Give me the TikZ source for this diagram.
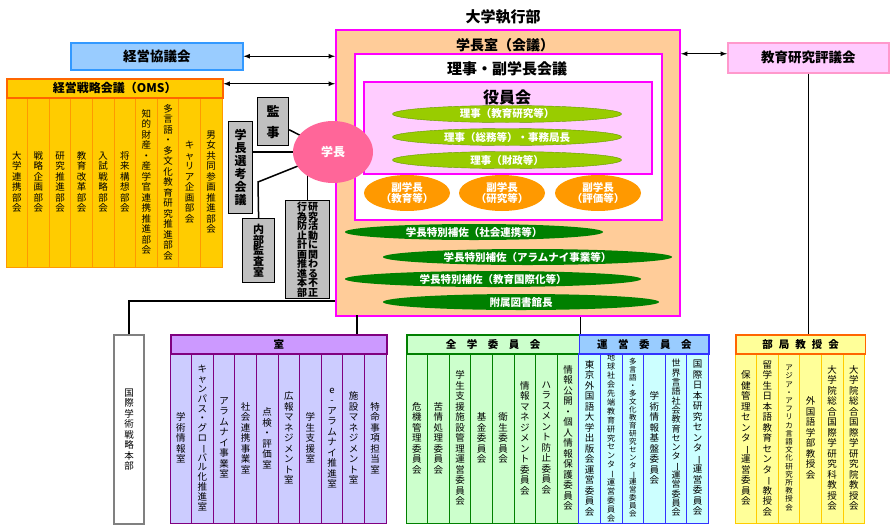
\documentclass[tikz,border=0pt]{standalone}
\usepackage{fontspec}
\setmainfont{Noto Sans CJK JP}
\usepackage{graphicx}
\usetikzlibrary{shapes, arrows}

\definecolor{omsfill}{HTML}{FFCC00}
\definecolor{omsline}{HTML}{FF6600}
\definecolor{omscolline}{HTML}{FF9900}
\definecolor{shitsuhd}{HTML}{CC99FF}
\definecolor{shitsufill}{HTML}{CCCCFF}
\definecolor{shitsuline}{HTML}{800080}
\definecolor{zengakufill}{HTML}{CCFFCC}
\definecolor{zengakuline}{HTML}{008000}
\definecolor{ueihd}{HTML}{99CCFF}
\definecolor{ueifill}{HTML}{CCFFFF}
\definecolor{ueiline}{HTML}{3333FF}
\definecolor{bukyokufill}{HTML}{FFFF99}
\definecolor{bukyokuline}{HTML}{FF6600}
\definecolor{bukyokucolline}{HTML}{FFCC00}
\definecolor{keieifill}{HTML}{99CCFF}
\definecolor{keieiline}{HTML}{3399FF}
\definecolor{hyogifill}{HTML}{FFCCFF}
\definecolor{hyogiline}{HTML}{FF99CC}
\definecolor{peach}{HTML}{FFCC99}
\definecolor{shitsumag}{HTML}{FF00FF}
\definecolor{yakuinfill}{HTML}{FFCCFF}
\definecolor{lime}{HTML}{99CC00}
\definecolor{limeline}{HTML}{669900}
\definecolor{hosagreen}{HTML}{008000}
\definecolor{fukuorange}{HTML}{FF9900}
\definecolor{gakuchopink}{HTML}{FF6699}
\definecolor{kanjigray}{HTML}{C0C0C0}
\definecolor{honbuline}{HTML}{808080}

% vertical (tate) text: one character per line
\makeatletter
\def\tate@bar{ー}
\def\tate@go{\@tfor\tate@c:=}
\def\tate@one{\hbox to 1em{\hss\ifx\tate@c\tate@bar\rotatebox[origin=c]{-90}{ー}\else\tate@c\fi\hss}}
\newcommand\tate[2][10.5]{\vbox{\baselineskip=#1pt\relax\lineskiplimit=-100pt\relax\expandafter\tate@go#2\do{\tate@one}}}
\makeatother

\begin{document}
\begin{tikzpicture}[x=1pt, y=-1pt, >=latex,
		every node/.style={font=\fontsize{9.5}{10.5}\selectfont},
		frame/.style={rectangle, inner sep=0pt, anchor=north west, line width=1.5pt},
		colbox/.style={rectangle, inner sep=0pt, minimum width=\cw, minimum height=170, line width=0.9pt},
		omscol/.style={colbox, fill=omsfill, draw=omscolline},
		shitsucol/.style={colbox, fill=shitsufill, draw=shitsuline},
		zengakucol/.style={colbox, fill=zengakufill, draw=zengakuline},
		ueicol/.style={colbox, fill=ueifill, draw=ueiline},
		bukyokucol/.style={colbox, fill=bukyokufill, draw=bukyokucolline},
		headtext/.style={font=\bfseries\fontsize{10.5}{12}\selectfont},
		kanjibox/.style={rectangle, draw=black, fill=kanjigray, line width=1.2pt, inner sep=0pt, anchor=north west},
		post/.style={ellipse, inner sep=0pt, text=white, font=\bfseries\fontsize{10.5}{11.5}\selectfont},
		link/.style={line width=1.5pt}]
		\def\cw{21.6}
		\def\oy{182}
		\def\ry{438}
		\useasboundingbox (0,0) rectangle (890,525);

		% top
		\node[font=\bfseries\fontsize{15}{16}\selectfont] (shikko) at (503,17) {大学執行部};
		\node[frame, fill=keieifill, draw=keieiline, minimum width=172, minimum height=27, font=\bfseries\fontsize{13.5}{14}\selectfont] (keiei) at (70,42) {経営協議会};
		\node[frame, fill=hyogifill, draw=hyogiline, minimum width=161, minimum height=30, font=\bfseries\fontsize{13.5}{14}\selectfont] (hyogikai) at (727,42) {教育研究評議会};

		% OMS
		\node[omscol] (oms1) at (6+0.5*\cw, \oy) {\tate{大学連携部会}};
		\node[omscol] (oms2) at (6+1.5*\cw, \oy) {\tate{戦略企画部会}};
		\node[omscol] (oms3) at (6+2.5*\cw, \oy) {\tate{研究推進部会}};
		\node[omscol] (oms4) at (6+3.5*\cw, \oy) {\tate{教育改革部会}};
		\node[omscol] (oms5) at (6+4.5*\cw, \oy) {\tate{入試戦略部会}};
		\node[omscol] (oms6) at (6+5.5*\cw, \oy) {\tate{将来構想部会}};
		\node[omscol] (oms7) at (6+6.5*\cw, \oy) {\tate{知的財産・産学官連携推進部会}};
		\node[omscol] (oms8) at (6+7.5*\cw, \oy) {\tate{多言語・多文化教育研究推進部会}};
		\node[omscol] (oms9) at (6+8.5*\cw, \oy) {\tate{キャリア企画部会}};
		\node[omscol] (oms10) at (6+9.5*\cw, \oy) {\tate{男女共同参画推進部会}};
		\node[frame, fill=omsfill, draw=omsline, minimum width=10*\cw, minimum height=19, headtext, font=\bfseries\fontsize{12}{13}\selectfont] (oms) at (6,78) {経営戦略会議（OMS）};

		% gakucho shitsu
		\node[frame, fill=peach, draw=shitsumag, line width=2pt, minimum width=344, minimum height=286] (gakuchoshitsu) at (335,29) {};
		\node[font=\bfseries\fontsize{14}{15}\selectfont] (shitsutitle) at (505,45) {学長室（会議）};
		\node[frame, fill=white, draw=shitsumag, line width=2pt, minimum width=307, minimum height=166] (fukukaigi) at (354,53) {};
		\node[font=\bfseries\fontsize{15}{16}\selectfont] (fukutitle) at (507,69) {理事・副学長会議};
		\node[frame, fill=yakuinfill, draw=shitsumag, line width=2pt, minimum width=288, minimum height=92] (yakuin) at (363,81) {};
		\node[font=\bfseries\fontsize{16}{17}\selectfont] (yakuintitle) at (507,97) {役員会};
		\node[post, fill=lime, draw=limeline, minimum width=229, minimum height=17] (riji1) at (507,114) {理事（教育研究等）};
		\node[post, fill=lime, draw=limeline, minimum width=229, minimum height=17] (riji2) at (507,137) {理事（総務等）・事務局長};
		\node[post, fill=lime, draw=limeline, minimum width=229, minimum height=17] (riji3) at (507,160) {理事（財政等）};
		\node[post, fill=fukuorange, minimum width=86, minimum height=36, align=center] (fuku1) at (407,193) {副学長\\（教育等）};
		\node[post, fill=fukuorange, minimum width=86, minimum height=36, align=center] (fuku2) at (502,193) {副学長\\（研究等）};
		\node[post, fill=fukuorange, minimum width=86, minimum height=36, align=center] (fuku3) at (598,193) {副学長\\（評価等）};
		\node[post, fill=hosagreen, minimum width=258, minimum height=16] (hosa1) at (474,232) {学長特別補佐（社会連携等）};
		\node[post, fill=hosagreen, minimum width=289, minimum height=16] (hosa2) at (527.5,257) {学長特別補佐（アラムナイ事業等）};
		\node[post, fill=hosagreen, minimum width=296, minimum height=16] (hosa3) at (493,279) {学長特別補佐（教育国際化等）};
		\node[post, fill=hosagreen, minimum width=276, minimum height=16] (tosho) at (521,302) {附属図書館長};

		% kansa etc.
		\node[kanjibox, minimum width=31, minimum height=48, font=\bfseries\fontsize{13}{13}\selectfont] (kanji) at (257,97) {\tate[21]{監事}};
		\node[kanjibox, minimum width=24, minimum height=92, font=\bfseries\fontsize{12}{12}\selectfont] (senko) at (228,121) {\tate[13]{学長選考会議}};
		\node[kanjibox, minimum width=32, minimum height=64, font=\bfseries\fontsize{11}{11}\selectfont] (naibu) at (242,218) {\tate[10.6]{内部監査室}};
		\node[kanjibox, minimum width=44, minimum height=98, font=\bfseries\fontsize{10}{10}\selectfont] (kenkyu) at (285,200) {\tate[9.5]{行為防止計画推進本部}\hspace{1pt}\tate[9.5]{研究活動に関わる不正}};
		\coordinate (gc) at (333,152);
		\coordinate (nb) at (258,182);
		\draw[link] (kanji) -- (gc);
		\draw[link] (senko.east |- gc) -- (gc);
		\draw[link] (gc) -- (nb) -- (naibu.north);
		\draw[link] (kenkyu.north) -- (kenkyu.north |- gc);
		\node[ellipse, fill=gakuchopink, inner sep=0pt, minimum width=80, minimum height=62, text=white, font=\bfseries\fontsize{12}{12}\selectfont] (gakucho) at (gc) {学長};

		% arrows
		\draw[<->, line width=1.2pt] (keiei.east) -- (keiei.east -| gakuchoshitsu.west);
		\draw[<->, line width=1.2pt] ([yshift=4.5pt]oms.east) -- ([yshift=4.5pt]oms.east -| gakuchoshitsu.west);
		\draw[<->, line width=1.2pt] ([yshift=4pt]hyogikai.west -| gakuchoshitsu.east) -- ([yshift=4pt]hyogikai.west);

		% honbu
		\node[frame, fill=white, draw=honbuline, line width=2pt, minimum width=30, minimum height=189] (honbu) at (113,334) {\tate{国際学術戦略本部}};
		\coordinate (hl) at (335,301);
		\draw[link] (honbu.north) |- (hl);

		% shitsu
		\node[shitsucol] (sh1) at (170+0.5*\cw, \ry) {\tate{学術情報室}};
		\node[shitsucol] (sh2) at (170+1.5*\cw, \ry) {\tate[9.8]{キャンパス・グローバル化推進室}};
		\node[shitsucol] (sh3) at (170+2.5*\cw, \ry) {\tate{アラムナイ事業室}};
		\node[shitsucol] (sh4) at (170+3.5*\cw, \ry) {\tate{社会連携事業室}};
		\node[shitsucol] (sh5) at (170+4.5*\cw, \ry) {\tate{点検・評価室}};
		\node[shitsucol] (sh6) at (170+5.5*\cw, \ry) {\tate{広報マネジメント室}};
		\node[shitsucol] (sh7) at (170+6.5*\cw, \ry) {\tate{学生支援室}};
		\node[shitsucol] (sh8) at (170+7.5*\cw, \ry) {\tate{e-アラムナイ推進室}};
		\node[shitsucol] (sh9) at (170+8.5*\cw, \ry) {\tate{施設マネジメント室}};
		\node[shitsucol] (sh10) at (170+9.5*\cw, \ry) {\tate{特命事項担当室}};
		\node[frame, fill=shitsuhd, draw=shitsuline, minimum width=10*\cw, minimum height=19, headtext] (shitsu) at (170,334) {室};
		\coordinate (s1) at (357,315);
		\draw[link] (s1) -- (s1 |- shitsu.north);

		% zengaku iinkai
		\node[zengakucol] (zg1) at (406+0.5*\cw, \ry) {\tate{危機管理委員会}};
		\node[zengakucol] (zg2) at (406+1.5*\cw, \ry) {\tate{苦情処理委員会}};
		\node[zengakucol] (zg3) at (406+2.5*\cw, \ry) {\tate{学生支援施設管理運営委員会}};
		\node[zengakucol] (zg4) at (406+3.5*\cw, \ry) {\tate{基金委員会}};
		\node[zengakucol] (zg5) at (406+4.5*\cw, \ry) {\tate{衛生委員会}};
		\node[zengakucol] (zg6) at (406+5.5*\cw, \ry) {\tate{情報マネジメント委員会}};
		\node[zengakucol] (zg7) at (406+6.5*\cw, \ry) {\tate{ハラスメント防止委員会}};
		\node[zengakucol] (zg8) at (406+7.5*\cw, \ry) {\tate{情報公開・個人情報保護委員会}};
		\node[frame, fill=zengakufill, draw=zengakuline, minimum width=8*\cw, minimum height=19, headtext] (zengaku) at (406,334) {全　学　委　員　会};

		% unei iinkai
		\node[ueicol] (ue1) at (578.8+0.5*\cw, \ry) {\tate{東京外国語大学出版会運営委員会}};
		\node[ueicol, font=\fontsize{8}{9}\selectfont] (ue2) at (578.8+1.5*\cw, \ry) {\tate[8.9]{地球社会先端教育研究センター運営委員会}};
		\node[ueicol, font=\fontsize{7.5}{8}\selectfont] (ue3) at (578.8+2.5*\cw, \ry) {\tate[8]{多言語・多文化教育研究センター運営委員会}};
		\node[ueicol] (ue4) at (578.8+3.5*\cw, \ry) {\tate{学術情報基盤委員会}};
		\node[ueicol, font=\fontsize{9}{9}\selectfont] (ue5) at (578.8+4.5*\cw, \ry) {\tate[9.3]{世界言語社会教育センター運営委員会}};
		\node[ueicol] (ue6) at (578.8+5.5*\cw, \ry) {\tate{国際日本研究センター運営委員会}};
		\node[frame, fill=ueihd, draw=ueiline, minimum width=6*\cw, minimum height=19, headtext] (unei) at (578.8,334) {運　営　委　員　会};
		\draw[link] (zengaku.north east |- gakuchoshitsu.south) -- (zengaku.north east);

		% bukyoku kyojukai
		\node[bukyokucol] (bk1) at (735+0.5*\cw, \ry) {\tate{保健管理センター運営委員会}};
		\node[bukyokucol] (bk2) at (735+1.5*\cw, \ry) {\tate{留学生日本語教育センター教授会}};
		\node[bukyokucol, font=\fontsize{7.5}{8}\selectfont] (bk3) at (735+2.5*\cw, \ry) {\tate[8.2]{アジア・アフリカ言語文化研究所教授会}};
		\node[bukyokucol] (bk4) at (735+3.5*\cw, \ry) {\tate{外国語学部教授会}};
		\node[bukyokucol] (bk5) at (735+4.5*\cw, \ry) {\tate{大学院総合国際学研究科教授会}};
		\node[bukyokucol] (bk6) at (735+5.5*\cw, \ry) {\tate{大学院総合国際学研究院教授会}};
		\node[frame, fill=bukyokufill, draw=bukyokuline, minimum width=6*\cw, minimum height=19, headtext] (bukyoku) at (735,334) {部\hspace{6pt}局\hspace{6pt}教\hspace{6pt}授\hspace{6pt}会};
		\draw[link] (hyogikai.south) -- (hyogikai.south |- bukyoku.north);
	\end{tikzpicture}
\end{document}
